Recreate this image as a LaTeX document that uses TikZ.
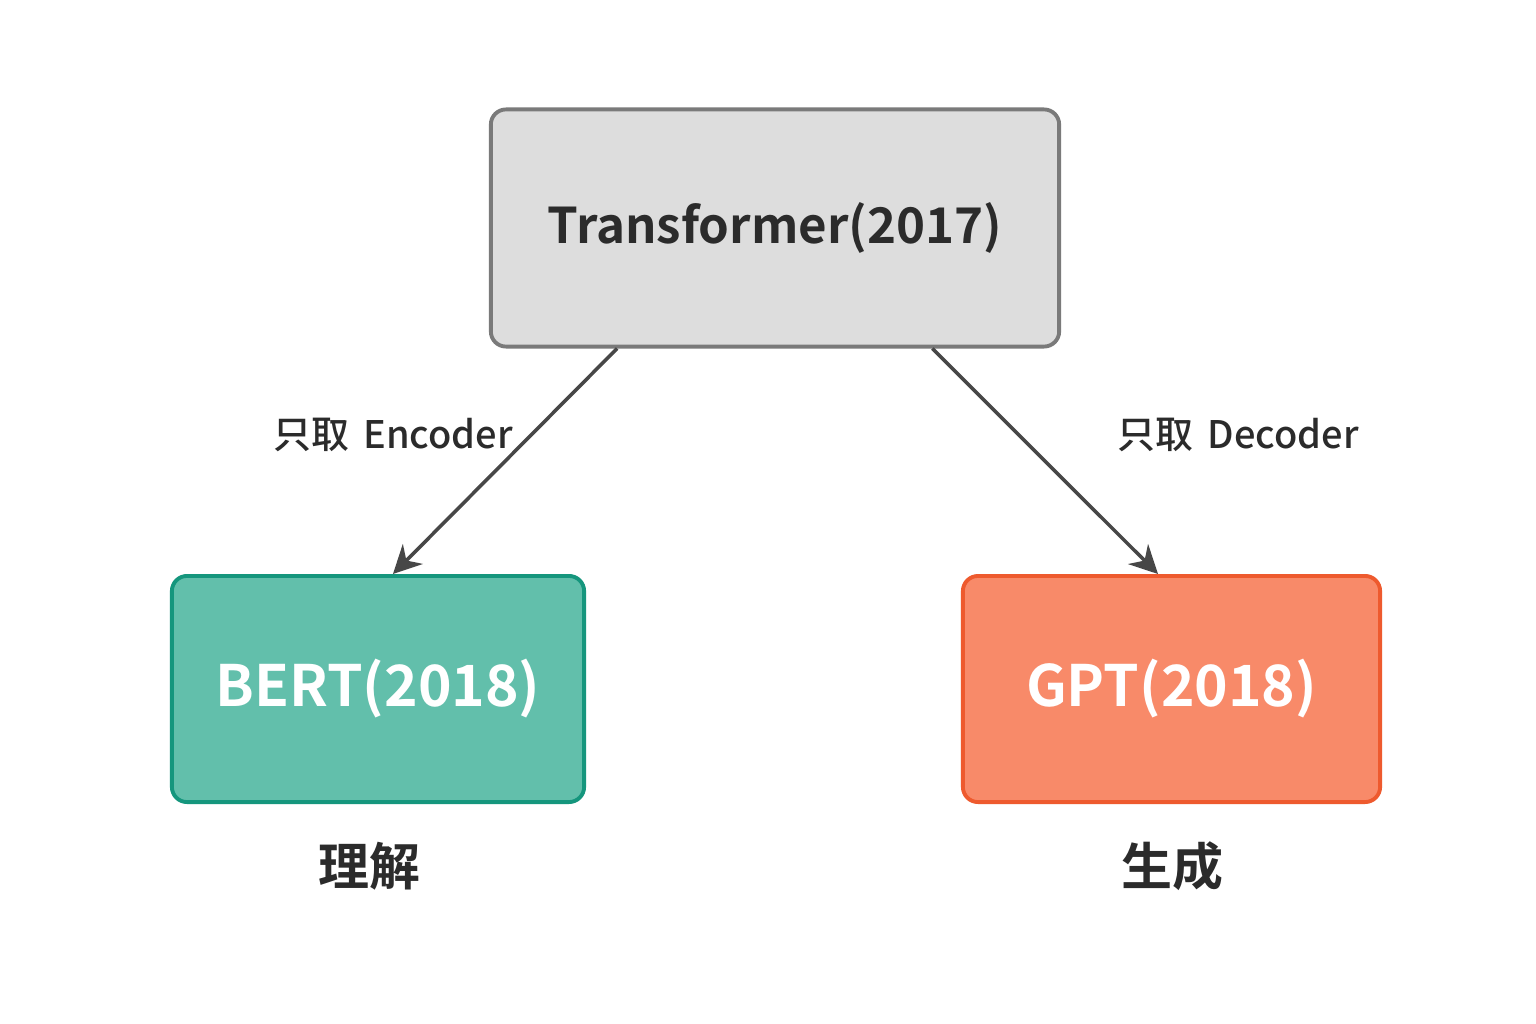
\documentclass[tikz,border=0pt]{standalone}
\usepackage{fontspec}
\setmainfont{Noto Sans CJK SC}
\newfontfamily\cjkbold{Noto Sans CJK SC Bold}
\newfontfamily\cjkmed{Noto Sans CJK SC Medium}
\usetikzlibrary{arrows.meta,positioning,calc}
\definecolor{Ink}{HTML}{2B2B2B}
\definecolor{ArrowInk}{HTML}{474747}
\definecolor{TfFill}{HTML}{DDDDDD}
\definecolor{TfLine}{HTML}{7A7A7A}
\definecolor{BertFill}{HTML}{62BFAB}
\definecolor{BertLine}{HTML}{15967D}
\definecolor{GptFill}{HTML}{F88A69}
\definecolor{GptLine}{HTML}{EE5A2E}
\tikzset{
  modelbox/.style={draw,rounded corners=4.3pt,line width=1.1pt,inner sep=0pt},
  branch/.style={draw=ArrowInk,line width=1pt,-{Stealth[length=8pt,width=8pt]}},
  pathlabel/.style={font=\cjkmed\fontsize{10.8}{13}\selectfont,text=Ink},
  rolelabel/.style={font=\cjkbold\fontsize{14.5}{17}\selectfont,text=Ink}
}

\begin{document}
\begin{tikzpicture}[x=0.01cm,y=-0.01cm]
\useasboundingbox[fill=white] (0,0) rectangle (1536,1024);
% models
\node[modelbox,fill=TfFill,draw=TfLine,minimum width=5.68cm,minimum height=2.37cm,
  font=\cjkbold\fontsize{14}{17}\selectfont,text=Ink] (tf) at (775,228) {\raisebox{-1pt}{Transformer(2017)}};
\node[modelbox,fill=BertFill,draw=BertLine,minimum width=4.12cm,minimum height=2.26cm,
  font=\cjkbold\fontsize{16.2}{19}\selectfont,text=white] (bert) at (378,689) {BERT(2018)};
\node[modelbox,fill=GptFill,draw=GptLine,minimum width=4.17cm,minimum height=2.26cm,
  font=\cjkbold\fontsize{16.2}{19}\selectfont,text=white] (gpt) at (1171.5,689) {GPT(2018)};
% branches
\draw[branch] ($(tf.south west)!0.224!(tf.south east)$) -- ($(bert.north west)!0.536!(bert.north east)$);
\draw[branch] ($(tf.south west)!0.775!(tf.south east)$) -- ($(gpt.north west)!0.468!(gpt.north east)$);
\node[pathlabel] (enc) at (393,435) {只取\hspace{0.15em} Encoder};
\node[pathlabel] (dec) at (1238,435) {只取\hspace{0.15em} Decoder};
% roles
\node[rolelabel] (und) at (369,866) {理解};
\node[rolelabel] (gen) at (1172,866) {生成};
\end{tikzpicture}
\end{document}
